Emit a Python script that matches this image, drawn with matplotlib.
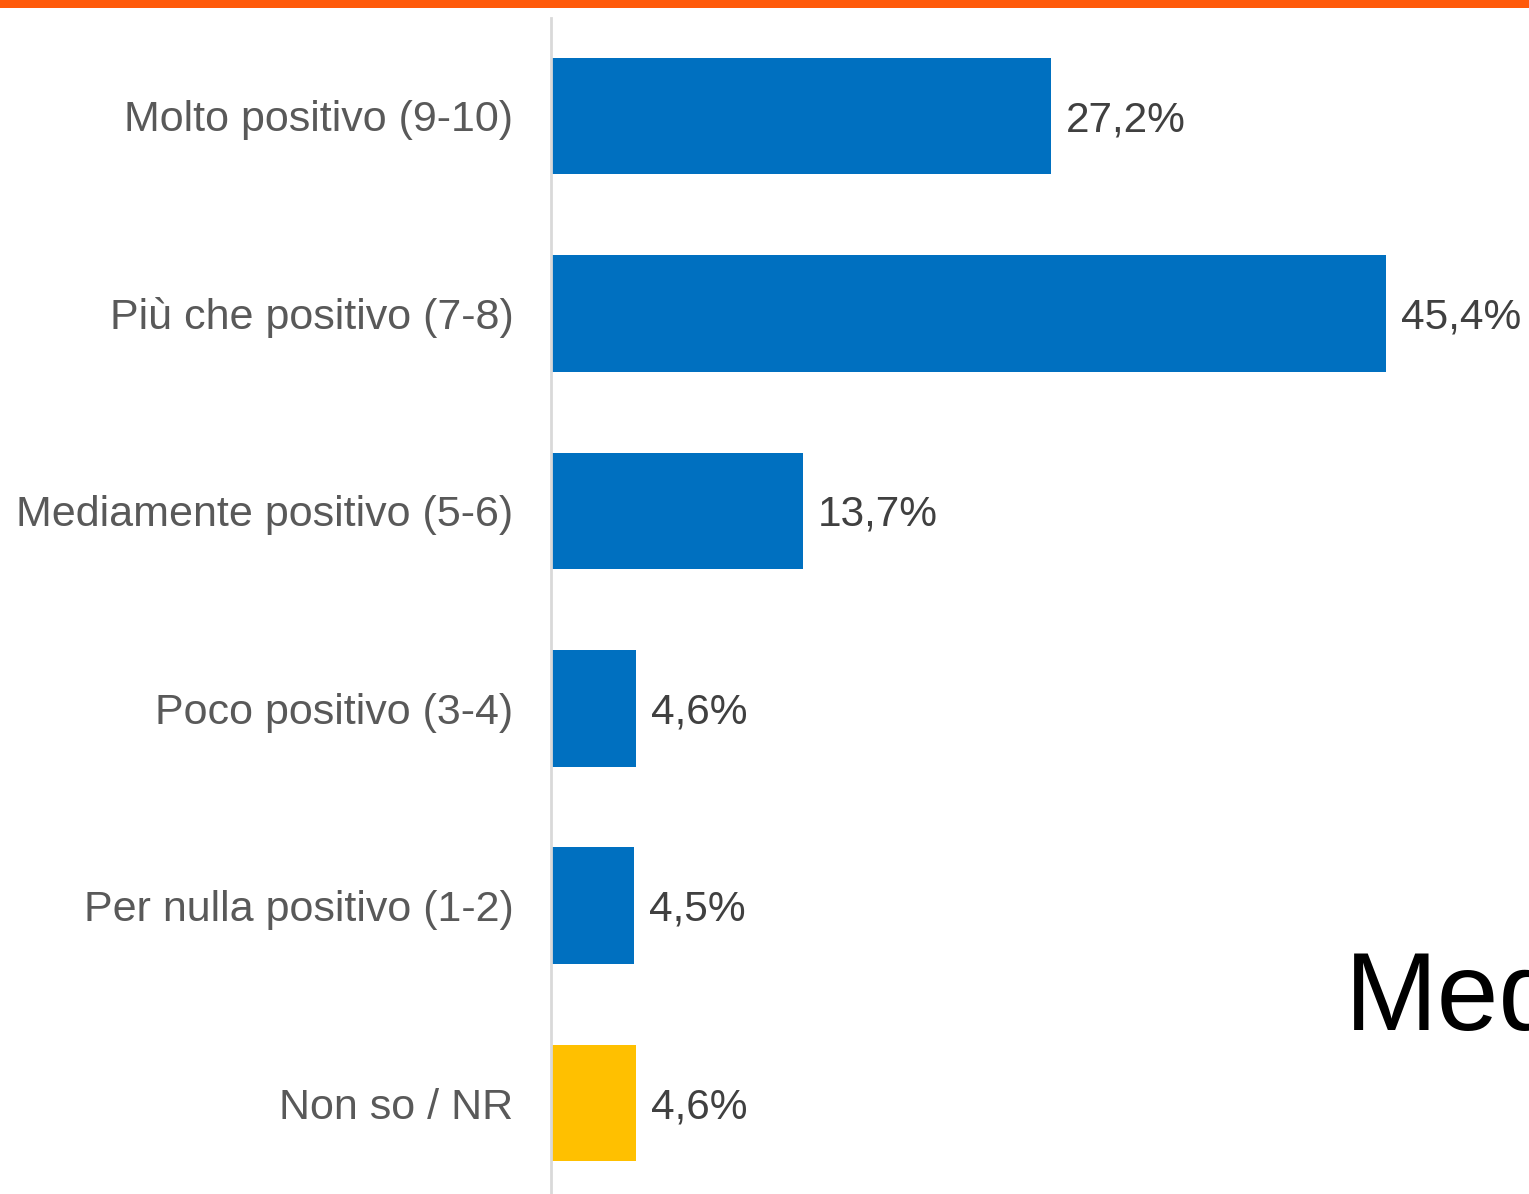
import matplotlib.pyplot as plt
from matplotlib.patches import Rectangle

# dati
categorie = ["Molto positivo (9-10)", "Più che positivo (7-8)", "Mediamente positivo (5-6)",
             "Poco positivo (3-4)", "Per nulla positivo (1-2)", "Non so / NR"]
valori = [27.2, 45.4, 13.7, 4.6, 4.5, 4.6]
colori = ["#0070C0"] * 5 + ["#FFC000"]

plt.rcParams['font.family'] = ['Liberation Sans', 'DejaVu Sans']

fig = plt.figure(figsize=(15.29, 11.94), dpi=100)
ax = fig.add_axes([551 / 1529, 0, 1 - 551 / 1529, 1 - 18 / 1194])

pos = list(range(len(categorie)))
ax.barh(pos, valori, height=0.59, color=colori)

for p, v in zip(pos, valori):
    ax.annotate(f"{v:.1f}%".replace(".", ","), (v, p), xytext=(11, -3), textcoords="offset points",
                va="center", ha="left", fontsize=30.5, color="#404040", clip_on=False)

ax.set_yticks(pos)
ax.set_yticklabels(categorie, fontsize=31, color="#595959")
ax.tick_params(axis="y", length=0, pad=27)
ax.set_xticks([])
ax.set_xlim(0, 53.2)
ax.set_ylim(5.46, -0.496)

for s in ["top", "right", "bottom"]:
    ax.spines[s].set_visible(False)
ax.spines["left"].set_color("#D9D9D9")
ax.spines["left"].set_linewidth(2)

# linea arancione in alto
fig.add_artist(Rectangle((0, 1 - 8 / 1194), 1, 8 / 1194, transform=fig.transFigure,
                         color="#FF5A0A", lw=0))

# testo tagliato a destra (come nel riferimento)
fig.text(1345 / 1529, 1 - 1030 / 1194, "Media", fontsize=80, color="black", ha="left", va="baseline")

fig.savefig("out.png", dpi=100)
